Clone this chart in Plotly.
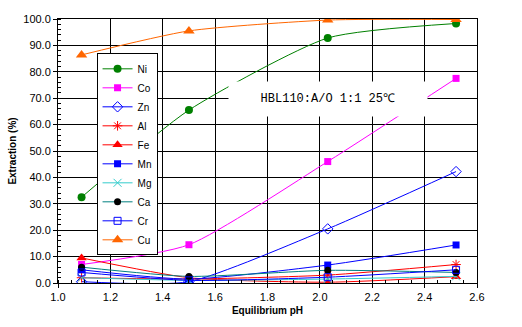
import plotly.graph_objects as go

ph = [1.09, 1.50, 2.03, 2.52]
ni = [32.5, 65.5, 92.8, 98.3]
co = [7.0, 14.5, 46.0, 77.5]
zn = [0.5, 0.5, 20.5, 42.2]
al = [2.0, 1.5, 3.0, 7.0]
fe = [9.5, 2.0, 0.3, 2.4]
mn = [5.0, 1.5, 6.8, 14.4]
mg = [2.0, 1.0, 1.5, 2.5]
ca = [6.0, 2.5, 4.8, 4.0]
cr = [4.0, 1.0, 2.2, 5.0]
cu = [86.4, 95.5, 99.6, 99.8]

series = [
    ("Ni", ni, "#008000", dict(symbol="circle", color="#008000", size=8)),
    ("Co", co, "#FF00FF", dict(symbol="square", color="#FF00FF", size=7)),
    ("Zn", zn, "#0000FF", dict(symbol="diamond-open", color="#0000FF", size=8)),
    ("Al", al, "#FF0000", dict(symbol="asterisk-open", color="#FF0000", size=8, line=dict(width=1, color="#FF0000"))),
    ("Fe", fe, "#FF0000", dict(symbol="triangle-up", color="#FF0000", size=9)),
    ("Mn", mn, "#0000FF", dict(symbol="square", color="#0000FF", size=7)),
    ("Mg", mg, "#33CCCC", dict(symbol="x-thin-open", color="#33CCCC", size=8, line=dict(width=1, color="#33CCCC"))),
    ("Ca", ca, "#008080", dict(symbol="circle", color="#000000", size=7)),
    ("Cr", cr, "#0000FF", dict(symbol="square-open", color="#0000FF", size=7)),
    ("Cu", cu, "#FF6600", dict(symbol="triangle-up", color="#FF6600", size=10)),
]

fig = go.Figure()
for name, vals, lc, mk in series:
    fig.add_trace(go.Scatter(
        x=ph, y=vals, name=name, mode="lines+markers",
        line=dict(color=lc, width=1, shape="spline", smoothing=0.6),
        marker=mk,
    ))

fig.add_annotation(
    x=2.03, y=69.7, xref="x", yref="y",
    text="&nbsp;&nbsp;&nbsp;HBL110:A/O 1:1 25℃&nbsp;&nbsp;&nbsp;", showarrow=False,
    font=dict(family="Liberation Mono, monospace", size=12, color="#000000"),
    bgcolor="#FFFFFF", borderpad=10,
)

fig.update_layout(
    width=522, height=327,
    margin=dict(l=53, r=45, t=19, b=44),
    paper_bgcolor="#FFFFFF", plot_bgcolor="#FFFFFF",
    font=dict(family="Liberation Sans, Arial, sans-serif", size=11, color="#000000"),
    showlegend=True,
    legend=dict(
        x=0.092, y=0.87, xanchor="left", yanchor="top",
        bgcolor="#FFFFFF", bordercolor="#000000", borderwidth=1,
        font=dict(size=10), itemwidth=30, tracegroupgap=0,
    ),
    xaxis=dict(
        range=[1.0, 2.6], dtick=0.2, tickformat=".1f",
        showgrid=True, gridcolor="#000000", gridwidth=1,
        showline=True, linecolor="#000000", linewidth=1, mirror=True,
        ticks="outside", ticklen=4, tickcolor="#000000",
        minor=dict(dtick=0.05, ticks="inside", ticklen=3, tickcolor="#000000", showgrid=False),
        zeroline=False,
        title=dict(text="<b>Equilibrium pH</b>", font=dict(size=10), standoff=4),
    ),
    yaxis=dict(
        range=[0, 100], dtick=10, tickformat=".1f",
        showgrid=True, gridcolor="#000000", gridwidth=1,
        showline=True, linecolor="#000000", linewidth=1, mirror=True,
        ticks="outside", ticklen=4, tickcolor="#000000",
        minor=dict(dtick=2, ticks="inside", ticklen=3, tickcolor="#000000", showgrid=False),
        zeroline=False,
        title=dict(text="<b>Extraction (%)</b>", font=dict(size=10), standoff=4),
    ),
)

fig.write_html("out.html")
